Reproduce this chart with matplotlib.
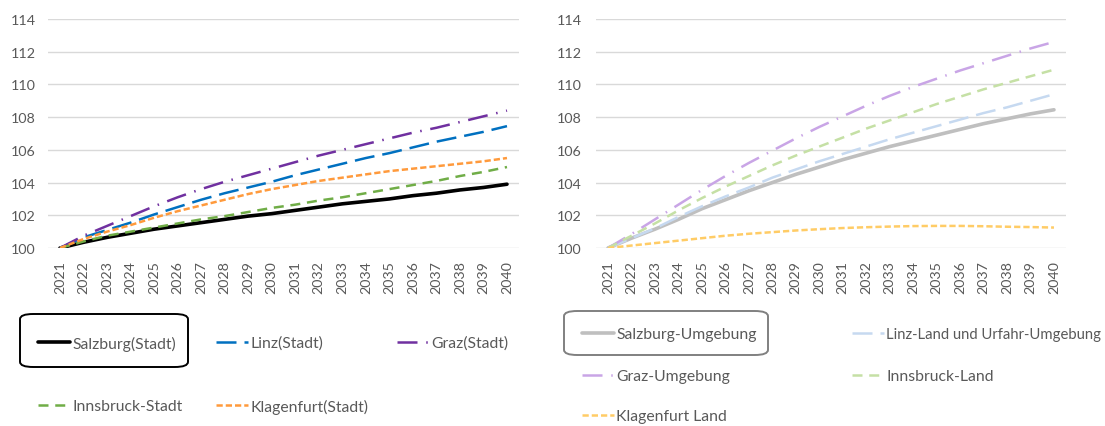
import numpy as np
import matplotlib
matplotlib.use("Agg")
import matplotlib.pyplot as plt
from matplotlib.patches import FancyBboxPatch

plt.rcParams['font.family'] = ['Lato', 'DejaVu Sans']

# Daten (Index 2021 = 100)
jahre = list(range(2021, 2041))

salzburg_stadt = [100, 100.35, 100.65, 100.9, 101.15, 101.35, 101.55, 101.75, 101.95, 102.1,
                  102.3, 102.5, 102.7, 102.85, 103.0, 103.2, 103.35, 103.55, 103.7, 103.9]
linz_stadt = [100, 100.65, 101.1, 101.55, 102.05, 102.5, 102.95, 103.35, 103.7, 104.05,
              104.45, 104.8, 105.15, 105.5, 105.8, 106.15, 106.5, 106.8, 107.1, 107.45]
graz_stadt = [100, 100.75, 101.35, 101.95, 102.55, 103.1, 103.6, 104.05, 104.45, 104.85,
              105.25, 105.65, 106.0, 106.35, 106.7, 107.05, 107.35, 107.7, 108.05, 108.4]
innsbruck_stadt = [100, 100.4, 100.75, 101.0, 101.25, 101.5, 101.75, 101.95, 102.2, 102.45,
                   102.65, 102.9, 103.1, 103.35, 103.6, 103.85, 104.1, 104.4, 104.65, 104.95]
klagenfurt_stadt = [100, 100.55, 101.0, 101.4, 101.85, 102.25, 102.6, 102.95, 103.3, 103.6,
                    103.85, 104.1, 104.3, 104.5, 104.7, 104.85, 105.0, 105.15, 105.3, 105.5]

salzburg_umg = [100, 100.6, 101.15, 101.75, 102.4, 102.95, 103.5, 104.0, 104.5, 104.95,
                105.4, 105.8, 106.2, 106.55, 106.9, 107.25, 107.6, 107.9, 108.2, 108.45]
linz_land = [100, 100.6, 101.2, 101.9, 102.55, 103.15, 103.7, 104.3, 104.8, 105.3,
             105.75, 106.2, 106.65, 107.05, 107.45, 107.85, 108.25, 108.6, 109.0, 109.4]
graz_umg = [100, 100.85, 101.75, 102.65, 103.55, 104.4, 105.2, 105.95, 106.7, 107.4,
            108.05, 108.7, 109.3, 109.85, 110.35, 110.85, 111.3, 111.75, 112.2, 112.6]
innsbruck_land = [100, 100.75, 101.5, 102.3, 103.05, 103.75, 104.4, 105.05, 105.65, 106.2,
                  106.75, 107.3, 107.8, 108.3, 108.8, 109.25, 109.7, 110.1, 110.5, 110.9]
klagenfurt_land = [100, 100.15, 100.3, 100.45, 100.6, 100.75, 100.87, 100.97, 101.07, 101.15,
                   101.22, 101.27, 101.31, 101.34, 101.35, 101.35, 101.33, 101.3, 101.28, 101.25]

W, H = 1105, 427
fig = plt.figure(figsize=(W / 100, H / 100), dpi=100)

ax1 = fig.add_axes([48.25 / W, 178 / H, 470.5 / W, 229 / H])
ax2 = fig.add_axes([596.3 / W, 178 / H, 469.4 / W, 229 / H])

tick_col = '#595959'
for ax in (ax1, ax2):
    ax.set_xlim(2020.5, 2040.5)
    ax.set_ylim(100, 114)
    ax.set_yticks(range(100, 115, 2))
    ax.set_xticks(jahre)
    ax.set_xticklabels([str(j) for j in jahre], rotation=90)
    ax.grid(axis='y', color='#d9d9d9', linewidth=1)
    ax.set_axisbelow(True)
    for s in ax.spines.values():
        s.set_visible(False)
    ax.tick_params(length=0, colors=tick_col, labelsize=10.3)
    ax.tick_params(axis='x', pad=9)
ax1.tick_params(axis='y', pad=9)
ax2.tick_params(axis='y', pad=10.5)

# linkes Diagramm: Städte
l_sbg, = ax1.plot(jahre, salzburg_stadt, color='black', lw=2.6, solid_capstyle='round')
l_linz, = ax1.plot(jahre, linz_stadt, color='#0070c0', lw=1.8, dashes=(8, 3.2))
l_graz, = ax1.plot(jahre, graz_stadt, color='#7030a0', lw=1.8, dashes=(8, 3.5, 0.6, 3.5))
l_ibk, = ax1.plot(jahre, innsbruck_stadt, color='#70ad47', lw=1.8, dashes=(4, 2.7))
l_kla, = ax1.plot(jahre, klagenfurt_stadt, color='#ff9a3c', lw=1.8, dashes=(2.5, 1.2))

# rechtes Diagramm: Umlandbezirke
r_sbg, = ax2.plot(jahre, salzburg_umg, color='#bfbfbf', lw=2.6, solid_capstyle='round')
r_linz, = ax2.plot(jahre, linz_land, color='#c6d9f0', lw=1.8, dashes=(8, 3.2))
r_graz, = ax2.plot(jahre, graz_umg, color='#c9a5e6', lw=1.8, dashes=(8, 3.5, 0.6, 3.5))
r_ibk, = ax2.plot(jahre, innsbruck_land, color='#c5e0a5', lw=1.8, dashes=(4, 2.7))
r_kla, = ax2.plot(jahre, klagenfurt_land, color='#ffcc66', lw=1.8, dashes=(2.5, 1.2))

# Legendeneinträge: (Linie, Text, x-Pixel, y-Pixel, Schriftgröße)
eintraege = [
    (l_sbg, 'Salzburg(Stadt)', 38, 344, 11.3),
    (l_linz, 'Linz(Stadt)', 216, 344, 11.3),
    (l_graz, 'Graz(Stadt)', 397, 344, 11.3),
    (l_ibk, 'Innsbruck-Stadt', 38, 407, 11.3),
    (l_kla, 'Klagenfurt(Stadt)', 216, 407, 11.3),
    (r_sbg, 'Salzburg-Umgebung', 582, 335, 11.3),
    (r_linz, 'Linz-Land und Urfahr-Umgebung', 852, 335, 10.7),
    (r_graz, 'Graz-Umgebung', 582, 377, 11.3),
    (r_ibk, 'Innsbruck-Land', 852, 377, 11.3),
    (r_kla, 'Klagenfurt Land', 582, 417, 11.3),
]
for line, name, x, y, fs in eintraege:
    fig.legend([line], [name], loc='center left', bbox_to_anchor=(x / W, 1 - y / H),
               frameon=False, borderpad=0, borderaxespad=0, handlelength=2.05 * 11.3 / fs,
               handletextpad=0.12, fontsize=fs, labelcolor='#595959')

# markierte Einträge (Rahmen)
for (x0, y0, x1, y1, col) in [(20, 315, 188, 368, 'black'), (564, 312, 768, 356, '#808080')]:
    fig.patches.append(FancyBboxPatch((x0 / W, 1 - y1 / H), (x1 - x0) / W, (y1 - y0) / H,
                                      boxstyle='round,pad=0,rounding_size=0.012',
                                      transform=fig.transFigure, fill=False,
                                      edgecolor=col, linewidth=1.4))

fig.savefig('out.png', dpi=100)
